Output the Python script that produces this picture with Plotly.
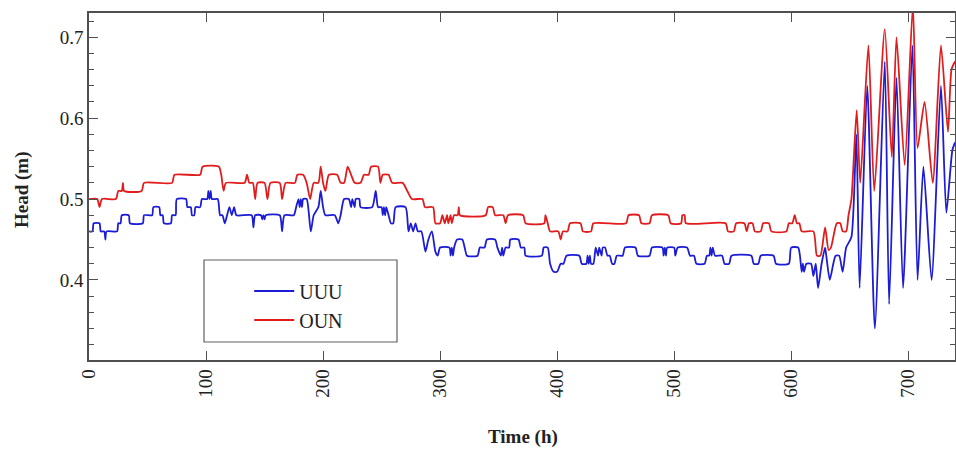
import plotly.graph_objects as go

# ---- data ----
oun_t = [0, 7, 9, 11, 23, 25, 28, 29, 30, 45, 47, 71, 73, 95, 97, 111, 113, 115, 117, 133, 135, 137, 140, 142, 144,
         150, 152.5, 155, 163, 165, 168, 176, 178, 183, 186, 189, 192, 196, 198, 200, 202, 205, 212, 215, 218, 221,
         224, 227, 232, 235, 239, 241, 247, 249, 251, 256, 259, 268, 272, 276, 285, 287, 294, 296, 300, 302, 304,
         306, 307, 309, 310, 312, 315, 316, 317, 339, 341, 345, 347, 354, 356, 358, 371, 373, 389, 390, 392, 394,
         401, 403, 405, 409, 411, 420, 422, 429, 431, 459, 461, 470, 472, 479, 481, 495, 497, 506, 507, 509, 510,
         544, 546, 551, 553, 560, 562, 564, 567, 569, 574, 576, 581, 583, 596, 598, 601, 603, 605, 607, 609, 619,
         622, 625, 629, 632, 634, 639, 642, 644, 647, 649, 651.5, 656, 659, 666, 671, 680, 686, 690, 697, 704,
         708, 714, 721, 728, 734, 737, 740]
oun_h = [0.50, 0.50, 0.49, 0.50, 0.50, 0.51, 0.51, 0.52, 0.51, 0.51, 0.52, 0.52, 0.53, 0.53, 0.54, 0.54, 0.53, 0.51,
         0.52, 0.52, 0.53, 0.52, 0.52, 0.50, 0.52, 0.52, 0.50, 0.52, 0.52, 0.50, 0.52, 0.52, 0.53, 0.53, 0.52, 0.50,
         0.52, 0.52, 0.54, 0.52, 0.51, 0.53, 0.53, 0.52, 0.52, 0.54, 0.53, 0.52, 0.52, 0.53, 0.53, 0.54, 0.54, 0.52,
         0.53, 0.53, 0.52, 0.52, 0.51, 0.50, 0.50, 0.49, 0.49, 0.47, 0.47, 0.48, 0.47, 0.48, 0.47, 0.48, 0.47, 0.48,
         0.48, 0.49, 0.48, 0.48, 0.49, 0.49, 0.48, 0.48, 0.47, 0.48, 0.48, 0.47, 0.47, 0.48, 0.47, 0.46, 0.46, 0.45,
         0.46, 0.46, 0.47, 0.47, 0.46, 0.46, 0.47, 0.47, 0.48, 0.48, 0.47, 0.47, 0.48, 0.48, 0.47, 0.47, 0.48, 0.48,
         0.47, 0.47, 0.46, 0.46, 0.47, 0.47, 0.46, 0.47, 0.47, 0.46, 0.46, 0.47, 0.47, 0.46, 0.46, 0.47, 0.47, 0.48,
         0.47, 0.47, 0.46, 0.46, 0.43, 0.43, 0.465, 0.437, 0.44, 0.47, 0.47, 0.46, 0.46, 0.48, 0.50, 0.61, 0.52,
         0.69, 0.51, 0.71, 0.552, 0.70, 0.542, 0.74, 0.563, 0.62, 0.52, 0.69, 0.583, 0.66, 0.67]

uuu_t = [0, 3, 4, 9, 10, 13, 14, 15, 24, 25, 27, 28, 34, 35, 46, 47, 54, 55, 60, 61, 63, 64, 70, 71, 74, 75, 83, 84,
         87, 88, 90, 91, 95, 96.5, 101, 102, 103, 104, 105, 110, 112, 114, 116, 118, 120, 122, 124, 126, 139, 140.5,
         142, 147, 148, 149, 150, 151, 163, 165, 167, 175, 177, 179, 180, 181, 182, 183, 186, 189.5, 192, 196, 198,
         200, 202, 210, 213, 215, 218, 222, 224, 225, 227, 228, 231, 232, 242, 245, 247, 250, 251, 252, 253, 254,
         256, 258, 260, 262, 270.5, 273, 275, 277, 279, 281, 284, 287.5, 290, 293, 296, 298, 300, 308, 309, 310,
         311, 312, 314.5, 319, 321, 323, 332, 334, 338, 340, 347, 349, 352, 353, 354, 356, 359, 360, 367, 369, 372,
         373, 387, 388.5, 392, 394, 397, 400, 403, 405.5, 408, 419, 421, 425, 426, 427, 428, 429, 431, 433, 435,
         436, 438, 439, 441, 443, 445, 447, 449, 451, 456, 458, 467, 469, 479, 481, 490, 491, 492, 493, 494, 500,
         501, 503, 511, 513.6, 517, 519, 526, 528, 530, 531, 532, 533, 535, 541, 543, 547, 549, 566, 568, 572, 574,
         585, 587, 598, 600, 606, 607.5, 609, 610, 611, 613, 617, 619, 621, 623, 626, 629, 630, 633, 636, 638, 641,
         644, 647, 651.5, 655.7, 658.5, 665, 671.5, 680, 683.7, 690, 695.6, 703.6, 708, 713, 720, 728, 732.6,
         737.7, 740]
uuu_h = [0.46, 0.46, 0.47, 0.47, 0.46, 0.46, 0.45, 0.46, 0.46, 0.47, 0.47, 0.48, 0.48, 0.47, 0.47, 0.48, 0.48, 0.49,
         0.49, 0.48, 0.48, 0.47, 0.47, 0.48, 0.48, 0.50, 0.50, 0.49, 0.49, 0.48, 0.48, 0.49, 0.49, 0.50, 0.50, 0.51,
         0.50, 0.51, 0.50, 0.50, 0.48, 0.48, 0.47, 0.48, 0.49, 0.48, 0.49, 0.48, 0.48, 0.465, 0.48, 0.48, 0.475,
         0.48, 0.475, 0.48, 0.48, 0.46, 0.48, 0.48, 0.49, 0.50, 0.49, 0.50, 0.49, 0.50, 0.50, 0.46, 0.48, 0.49, 0.51,
         0.49, 0.48, 0.48, 0.47, 0.48, 0.50, 0.50, 0.49, 0.50, 0.49, 0.50, 0.50, 0.49, 0.49, 0.51, 0.49, 0.49, 0.48,
         0.49, 0.48, 0.49, 0.48, 0.47, 0.47, 0.49, 0.49, 0.46, 0.47, 0.46, 0.47, 0.46, 0.46, 0.435, 0.45, 0.46, 0.435,
         0.43, 0.44, 0.44, 0.43, 0.44, 0.43, 0.44, 0.45, 0.45, 0.44, 0.43, 0.43, 0.44, 0.44, 0.45, 0.45, 0.44, 0.43,
         0.44, 0.43, 0.44, 0.44, 0.45, 0.45, 0.44, 0.44, 0.43, 0.43, 0.44, 0.44, 0.42, 0.41, 0.41, 0.42, 0.42, 0.43,
         0.43, 0.42, 0.42, 0.43, 0.42, 0.43, 0.42, 0.42, 0.44, 0.43, 0.44, 0.43, 0.44, 0.44, 0.43, 0.43, 0.42, 0.42,
         0.43, 0.43, 0.44, 0.44, 0.43, 0.43, 0.44, 0.44, 0.43, 0.44, 0.43, 0.44, 0.44, 0.43, 0.44, 0.44, 0.43, 0.43,
         0.42, 0.42, 0.43, 0.43, 0.44, 0.43, 0.44, 0.43, 0.43, 0.42, 0.42, 0.43, 0.43, 0.42, 0.42, 0.43, 0.43, 0.42,
         0.42, 0.44, 0.44, 0.43, 0.41, 0.42, 0.41, 0.42, 0.42, 0.405, 0.42, 0.39, 0.42, 0.44, 0.43, 0.40, 0.42, 0.43,
         0.43, 0.41, 0.44, 0.453, 0.58, 0.39, 0.64, 0.34, 0.67, 0.37, 0.65, 0.39, 0.69, 0.40, 0.54, 0.40, 0.64,
         0.483, 0.56, 0.57]

x_ticks = [0, 100, 200, 300, 400, 500, 600, 700]
y_ticks = [0.4, 0.5, 0.6, 0.7]
y_minor = [0.32, 0.34, 0.36, 0.38, 0.42, 0.44, 0.46, 0.48, 0.52, 0.54, 0.56, 0.58,
           0.62, 0.64, 0.66, 0.68, 0.72]
x_title = "Time (h)"
y_title = "Head (m)"

FONT = "Liberation Serif, Times New Roman, serif"
AX = "#505050"
TXT = "#222222"

fig = go.Figure()
fig.add_trace(go.Scatter(x=uuu_t, y=uuu_h, mode="lines", name="UUU",
                         line=dict(color="#1c1cd6", width=1.8, shape="spline", smoothing=0.6)))
fig.add_trace(go.Scatter(x=oun_t, y=oun_h, mode="lines", name="OUN",
                         line=dict(color="#e01c1c", width=1.8, shape="spline", smoothing=0.6)))

fig.update_layout(
    width=956, height=453,
    margin=dict(l=89, r=1, t=13, b=93, autoexpand=False),
    paper_bgcolor="white", plot_bgcolor="white",
    font=dict(family=FONT, size=19, color=TXT),
    showlegend=True,
    legend=dict(x=0.185, y=0.255, xanchor="left", yanchor="top",
                bgcolor="rgba(0,0,0,0)", borderwidth=0,
                font=dict(family=FONT, size=20, color=TXT),
                itemwidth=40, tracegroupgap=0),
    xaxis=dict(range=[0, 740], tickvals=x_ticks, ticks="inside", ticklen=9, tickcolor=AX,
               tickangle=-90, showline=True, linecolor=AX, linewidth=1.5, mirror="allticks",
               showgrid=False, zeroline=False, automargin=False,
               tickfont=dict(family=FONT, size=19, color=TXT)),
    yaxis=dict(range=[0.301, 0.73], tickvals=y_ticks, ticktext=["0.4", "0.5", "0.6", "0.7"],
               ticks="inside", ticklen=9, tickcolor=AX,
               minor=dict(tickvals=y_minor, ticks="inside", ticklen=5, tickcolor=AX),
               showline=True, linecolor=AX, linewidth=1.5, mirror="allticks",
               showgrid=False, zeroline=False, automargin=False,
               tickfont=dict(family=FONT, size=19, color=TXT)),
    shapes=[dict(type="rect", xref="paper", yref="paper",
                 x0=(204 - 89) / 866, x1=(397 - 89) / 866,
                 y0=(360 - 342) / 347, y1=(360 - 260) / 347,
                 line=dict(color="#606060", width=1.2), fillcolor="white", layer="below")],
    annotations=[
        dict(text="<b>" + y_title + "</b>", xref="paper", yref="paper", x=(22 - 89) / 866, y=(360 - 190) / 347,
             textangle=-90, showarrow=False, font=dict(family=FONT, size=19, color=TXT),
             xanchor="center", yanchor="middle"),
        dict(text="<b>" + x_title + "</b>", xref="paper", yref="paper", x=(523 - 89) / 866, y=(360 - 437) / 347,
             showarrow=False, font=dict(family=FONT, size=19, color=TXT),
             xanchor="center", yanchor="middle"),
    ],
)

fig.write_html("out.html",
               config={"displayModeBar": False},
               post_script="document.body.style.margin='0';document.body.style.padding='0';"
                           "document.body.style.overflow='hidden';")
